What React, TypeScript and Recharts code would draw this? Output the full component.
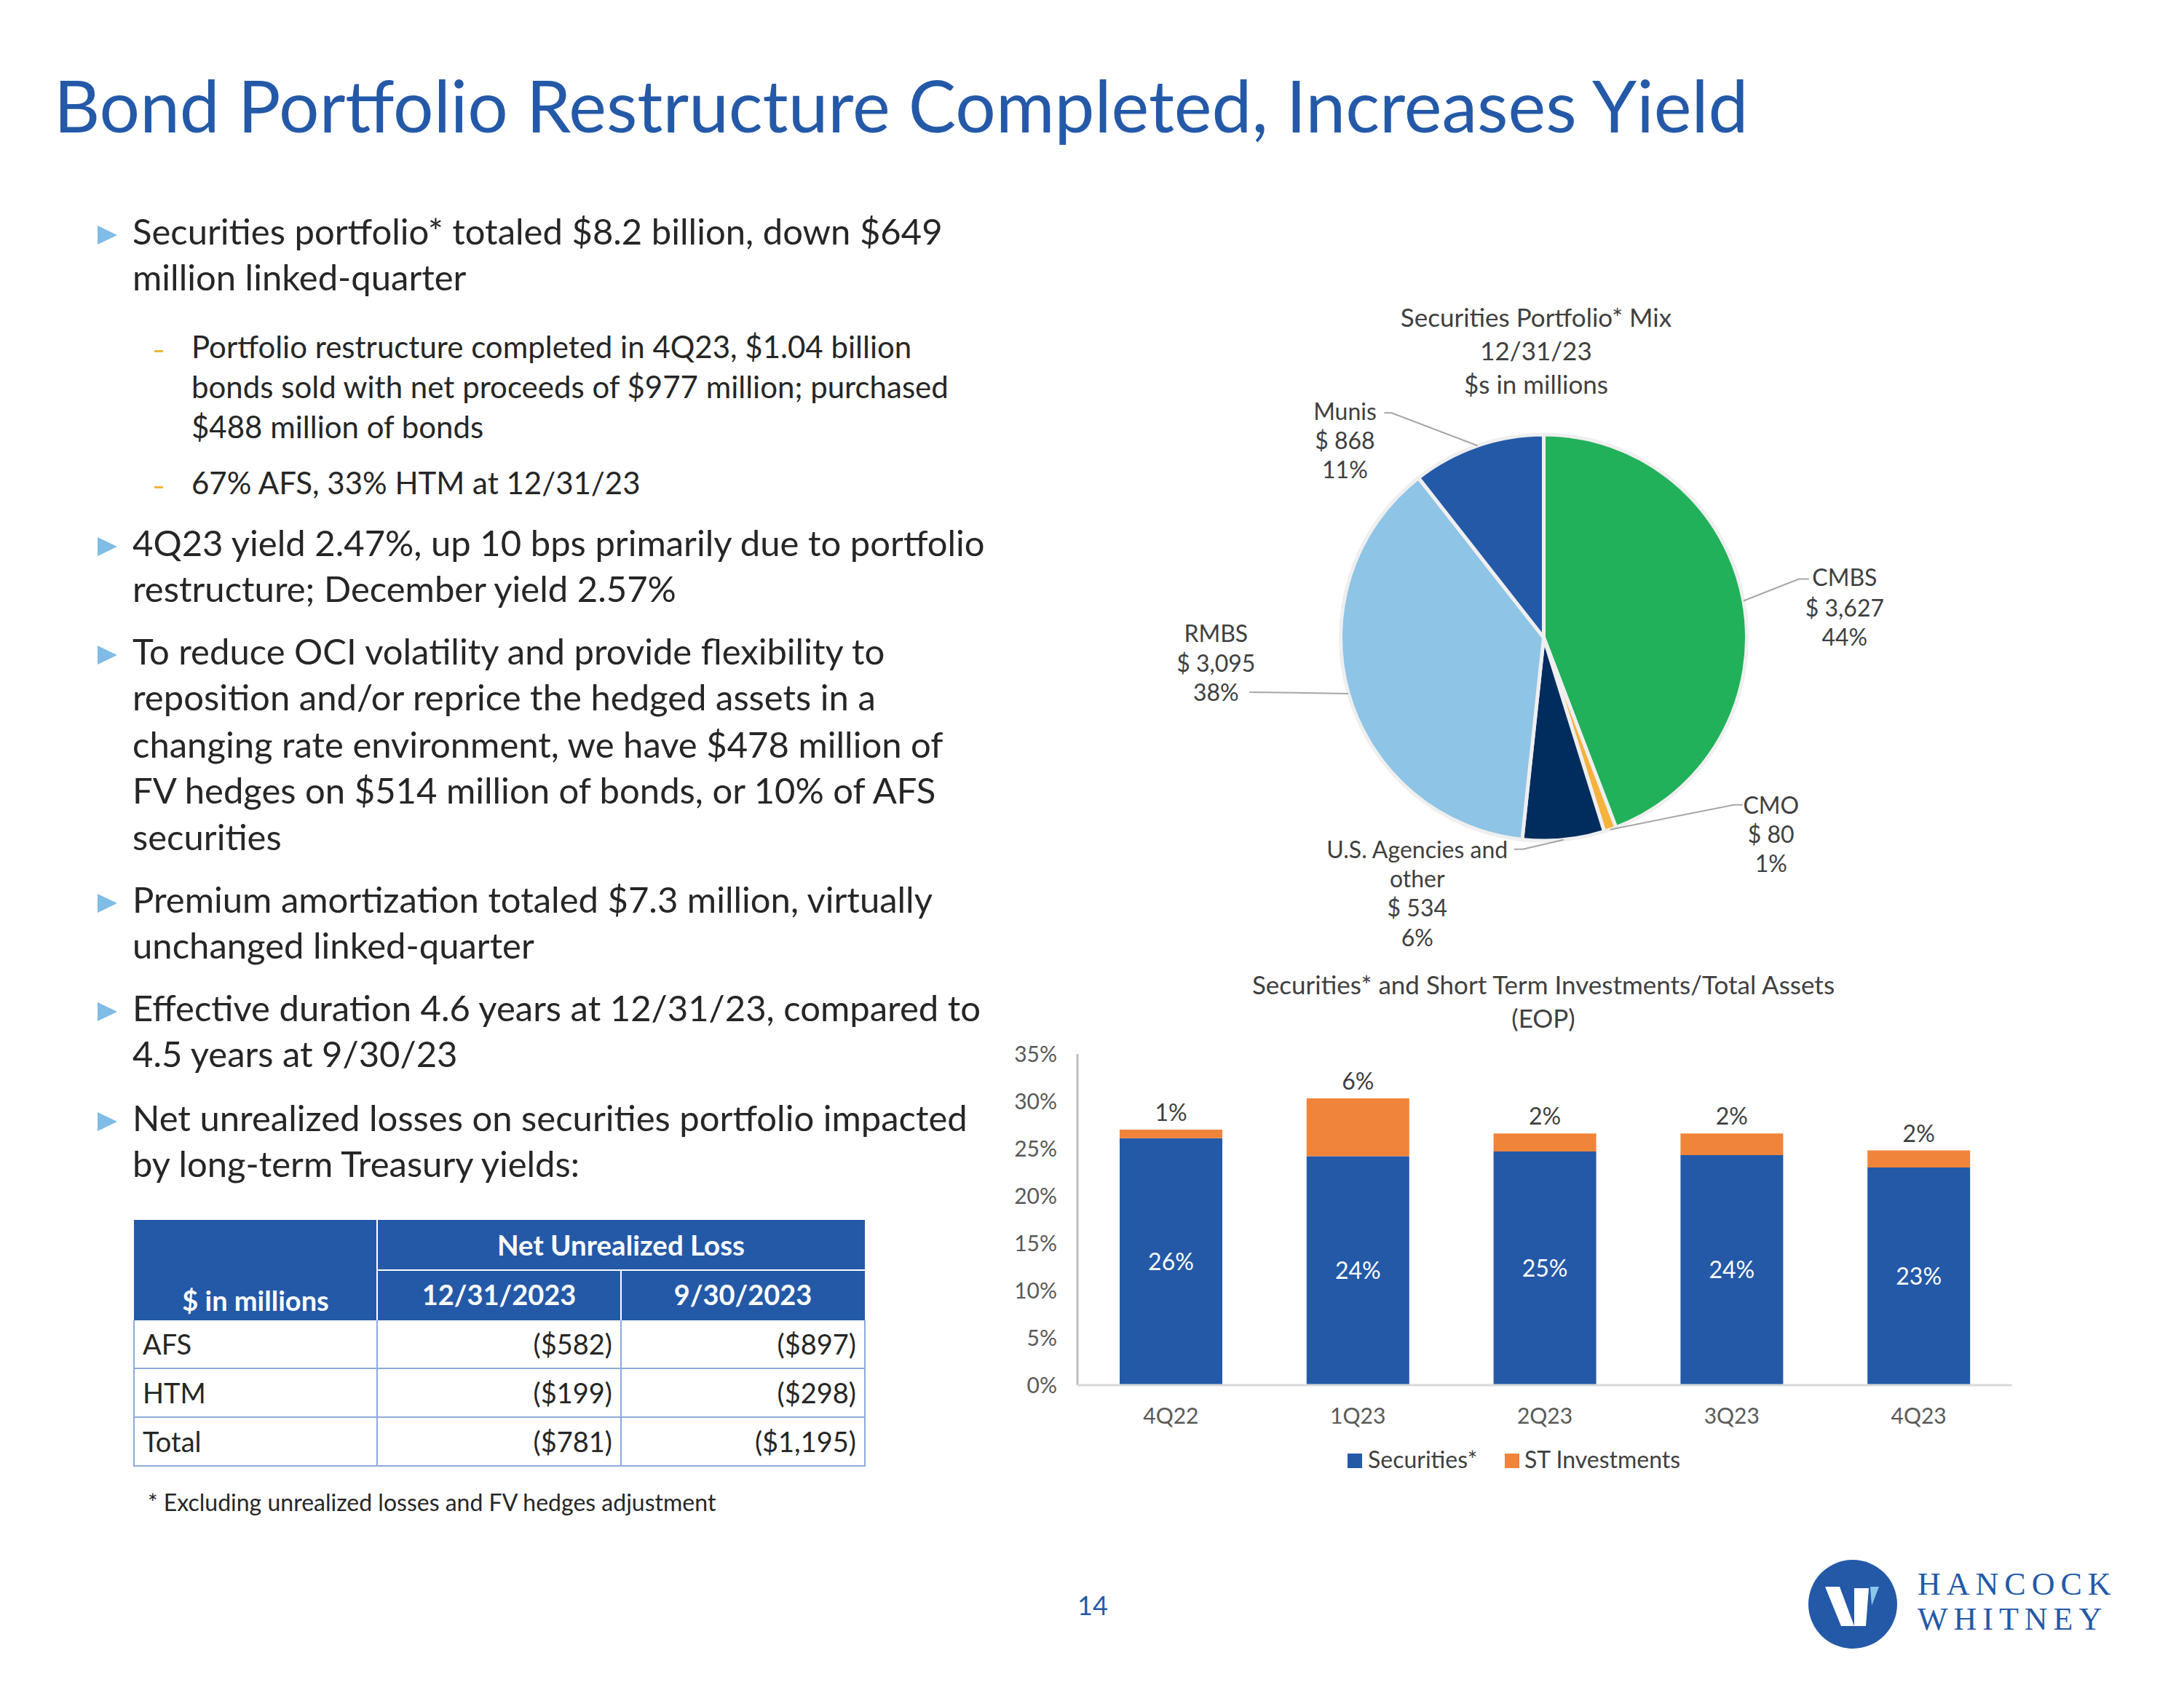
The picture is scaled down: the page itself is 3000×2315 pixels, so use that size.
import React from 'react';
import { PieChart, Pie, Cell, BarChart, Bar, XAxis, YAxis, LabelList } from 'recharts';

const FONT = "Lato, 'Open Sans', sans-serif";
const TEXT = '#262626';
const BLUE = '#2459A8';
const LABEL = '#404040';

// ---------- text content ----------
const titleText = 'Bond Portfolio Restructure Completed, Increases Yield';
const bullet1 = ['Securities portfolio* totaled $8.2 billion, down $649', 'million linked-quarter'];
const sub1 = ['Portfolio restructure completed in 4Q23, $1.04 billion', 'bonds sold with net proceeds of $977 million; purchased', '$488 million of bonds'];
const sub2 = ['67% AFS, 33% HTM at 12/31/23'];
const bullet2 = ['4Q23 yield 2.47%, up 10 bps primarily due to portfolio', 'restructure; December yield 2.57%'];
const bullet3 = ['To reduce OCI volatility and provide flexibility to', 'reposition and/or reprice the hedged assets in a', 'changing rate environment, we have $478 million of', 'FV hedges on $514 million of bonds, or 10% of AFS', 'securities'];
const bullet4 = ['Premium amortization totaled $7.3 million, virtually', 'unchanged linked-quarter'];
const bullet5 = ['Effective duration 4.6 years at 12/31/23, compared to', '4.5 years at 9/30/23'];
const bullet6 = ['Net unrealized losses on securities portfolio impacted', 'by long-term Treasury yields:'];

// ---------- table ----------
const tableRowNames = ['AFS', 'HTM', 'Total'];
const tableDec2023 = ['($582)', '($199)', '($781)'];
const tableSep2023 = ['($897)', '($298)', '($1,195)'];

// ---------- pie data ----------
const pieNames = ['CMBS', 'CMO', 'U.S. Agencies and other', 'RMBS', 'Munis'];
const pieNameLines = [['CMBS'], ['CMO'], ['U.S. Agencies and', 'other'], ['RMBS'], ['Munis']];
const pieValues = [3627, 80, 534, 3095, 868];
const piePercents = ['44%', '1%', '6%', '38%', '11%'];
const pieColors = ['#21B15A', '#F5B23C', '#002C5E', '#8EC4E5', '#2459A8'];

// ---------- bar data ----------
const quarters = ['4Q22', '1Q23', '2Q23', '3Q23', '4Q23'];
const securitiesPct = [26.1, 24.2, 24.7, 24.3, 23.0];
const stInvestmentsPct = [0.9, 6.1, 1.9, 2.3, 1.8];
const yTicks = [0, 5, 10, 15, 20, 25, 30, 35];
const seriesNames = ['Securities*', 'ST Investments'];
const seriesColors = ['#2459A8', '#F0843A'];

const pieData = pieNames.map((name, i) => ({ name, value: pieValues[i] }));
const barData = quarters.map((q, i) => ({ q, sec: securitiesPct[i], st: stInvestmentsPct[i] }));

// ---------- helpers ----------
function Line(props: any) {
  const { x, cy, size, children, color = TEXT, weight = 400, anchor = 'left', family = FONT, spacing } = props;
  const lh = size * 1.2;
  const style: any = {
    position: 'absolute', top: cy - lh / 2 - size * 0.06, fontSize: size, lineHeight: lh + 'px',
    whiteSpace: 'nowrap', color, fontWeight: weight, fontFamily: family, letterSpacing: spacing,
  };
  if (anchor === 'left') style.left = x;
  else if (anchor === 'center') { style.left = x - 1000; style.width = 2000; style.textAlign = 'center'; }
  else { style.left = x - 2000; style.width = 2000; style.textAlign = 'right'; }
  return <div style={style}>{children}</div>;
}

function Tri({ cy }: any) {
  return (
    <svg style={{ position: 'absolute', left: 134, top: cy - 10 }} width={28} height={27}>
      <polygon points="0,0 27,13 0,26" fill="#7FBCE6" />
    </svg>
  );
}

function Dash({ cy }: any) {
  return <div style={{ position: 'absolute', left: 212, top: cy + 2, width: 12, height: 3, background: '#F2B33D' }} />;
}

const MAIN = 49;
const SUB = 42;

function MainBullet({ lines, ys }: any) {
  return (
    <>
      <Tri cy={ys[0]} />
      {lines.map((t: string, i: number) => <Line key={i} x={182} cy={ys[i]} size={MAIN}>{t}</Line>)}
    </>
  );
}

function SubBullet({ lines, ys }: any) {
  return (
    <>
      <Dash cy={ys[0]} />
      {lines.map((t: string, i: number) => <Line key={i} x={263} cy={ys[i]} size={SUB}>{t}</Line>)}
    </>
  );
}

// ---------- pie labels ----------
const RAD = Math.PI / 180;
const pieLabelLayout = [
  { dx: 139, dy: [-33, 9, 49], leader: [[76, -30], [90, -30]] },
  { dx: 221, dy: [-34, 6, 46], leader: [[170, -34], [182, -34]] },
  { dx: -201, dy: [13, 53, 93, 134], leader: [[-56, 13], [-68, 13]] },
  { dx: -182, dy: [-83, -42, -2], leader: [[-136, -2]] },
  { dx: -182, dy: [-48, -8, 32], leader: [[-118, -45], [-128, -45]] },
];

function renderPieLabel(props: any) {
  const { cx, cy, midAngle, outerRadius, index } = props;
  const ex = cx + outerRadius * Math.cos(-midAngle * RAD);
  const ey = cy + outerRadius * Math.sin(-midAngle * RAD);
  const lay = pieLabelLayout[index];
  const lines = [...pieNameLines[index], '$ ' + pieValues[index].toLocaleString('en-US'), piePercents[index]];
  const pts = [[ex, ey], ...lay.leader.map(([a, b]) => [ex + a, ey + b])];
  return (
    <g key={'pl' + index}>
      <polyline points={pts.map((p) => p.join(',')).join(' ')} fill="none" stroke="#A6A6A6" strokeWidth={2} />
      {lines.map((t, i) => (
        <text key={i} x={ex + lay.dx} y={ey + lay.dy[i]} textAnchor="middle" dominantBaseline="central"
          fontSize={32} fill={LABEL} fontFamily={FONT}>{t}</text>
      ))}
    </g>
  );
}

// ---------- table ----------
function Table() {
  const L = 184, C1 = 518, C2 = 853, R = 1188;
  const top = 1676, mid = 1745, hb = 1814;
  const rows = [1814, 1880, 1947, 2014];
  const rowC = [1849, 1916, 1983];
  const border = '#8EA9DB';
  const els: any[] = [];
  els.push(<div key="hbg" style={{ position: 'absolute', left: L, top, width: R - L, height: hb - top, background: BLUE }} />);
  els.push(<div key="hv1" style={{ position: 'absolute', left: C1 - 1, top, width: 2, height: hb - top, background: '#FFFFFF' }} />);
  els.push(<div key="hh" style={{ position: 'absolute', left: C1, top: mid - 1, width: R - C1, height: 2, background: '#FFFFFF' }} />);
  els.push(<div key="hv2" style={{ position: 'absolute', left: C2 - 1, top: mid, width: 2, height: hb - mid, background: '#FFFFFF' }} />);
  [L, C1, C2, R].forEach((x, i) => els.push(
    <div key={'bv' + i} style={{ position: 'absolute', left: x - 1, top: hb, width: 2, height: rows[3] - hb, background: border }} />));
  rows.slice(1).forEach((y, i) => els.push(
    <div key={'bh' + i} style={{ position: 'absolute', left: L - 1, top: y - 1, width: R - L + 2, height: 2, background: border }} />));
  els.push(<Line key="t1" x={(C1 + R) / 2} cy={1712} size={38.5} weight={700} color="#FFFFFF" anchor="center">Net Unrealized Loss</Line>);
  els.push(<Line key="t2" x={(L + C1) / 2} cy={1789} size={38} weight={700} color="#FFFFFF" anchor="center">$ in millions</Line>);
  els.push(<Line key="t3" x={(C1 + C2) / 2} cy={1781} size={38} weight={700} color="#FFFFFF" anchor="center">12/31/2023</Line>);
  els.push(<Line key="t4" x={(C2 + R) / 2} cy={1781} size={38} weight={700} color="#FFFFFF" anchor="center">9/30/2023</Line>);
  tableRowNames.forEach((n, i) => {
    els.push(<Line key={'rn' + i} x={196} cy={rowC[i]} size={38}>{n}</Line>);
    els.push(<Line key={'rd' + i} x={C2 - 12} cy={rowC[i]} size={38} anchor="right">{tableDec2023[i]}</Line>);
    els.push(<Line key={'rs' + i} x={R - 12} cy={rowC[i]} size={38} anchor="right">{tableSep2023[i]}</Line>);
  });
  return <>{els}</>;
}

function Logo() {
  return (
    <>
      <svg style={{ position: 'absolute', left: 2545 - 64, top: 2204 - 64 }} width={128} height={128}>
        <circle cx={64} cy={64} r={61} fill={BLUE} />
        <polygon points="26,40 46,40 66,94 48,94" fill="#FFFFFF" />
        <polygon points="66,42 86,42 82,94 66,94" fill="#FFFFFF" />
        <polygon points="88,40 100,40 90,66" fill="#8EC6EA" />
      </svg>
      <Line x={2634} cy={2180} size={44} color={BLUE} family="'Liberation Serif', 'DejaVu Serif', serif" spacing={8}>HANCOCK</Line>
      <Line x={2634} cy={2228} size={44} color={BLUE} family="'Liberation Serif', 'DejaVu Serif', serif" spacing={8}>WHITNEY</Line>
    </>
  );
}

export default function App() {
  return (
    <div style={{ position: 'absolute', left: 0, top: 0, width: 3000, height: 2315, background: '#FFFFFF', fontFamily: FONT, overflow: 'hidden' }}>
      {/* Title */}
      <div style={{ position: 'absolute', left: 74, top: 183 - 0.987 * 98, fontSize: 98, lineHeight: (98 * 1.2) + 'px', color: BLUE, whiteSpace: 'nowrap', fontFamily: FONT }}>{titleText}</div>

      {/* Bullets */}
      <MainBullet lines={bullet1} ys={[320, 383]} />
      <SubBullet lines={sub1} ys={[479, 534, 589]} />
      <SubBullet lines={sub2} ys={[666]} />
      <MainBullet lines={bullet2} ys={[748, 811]} />
      <MainBullet lines={bullet3} ys={[897, 960, 1025, 1088, 1152]} />
      <MainBullet lines={bullet4} ys={[1238, 1301]} />
      <MainBullet lines={bullet5} ys={[1387, 1450]} />
      <MainBullet lines={bullet6} ys={[1538, 1601]} />

      <Table />
      <Line x={203} cy={2066} size={32}>* Excluding unrealized losses and FV hedges adjustment</Line>

      {/* Pie chart */}
      <Line x={2110} cy={437} size={35} color={LABEL} anchor="center">Securities Portfolio* Mix</Line>
      <Line x={2110} cy={483} size={35} color={LABEL} anchor="center">12/31/23</Line>
      <Line x={2110} cy={529} size={35} color={LABEL} anchor="center">$s in millions</Line>
      <div style={{ position: 'absolute', left: 1560, top: 500 }}>
        <PieChart width={1180} height={820}>
          <Pie data={pieData} dataKey="value" nameKey="name" cx={555.5} cy={371} outerRadius={279}
            startAngle={90} endAngle={-270} isAnimationActive={false} stroke="#EFEFEF" strokeWidth={5}
            label={renderPieLabel} labelLine={false}>
            {pieData.map((d, i) => <Cell key={d.name} fill={pieColors[i]} />)}
          </Pie>
        </PieChart>
      </div>

      {/* Bar chart */}
      <Line x={2120} cy={1354} size={35} color={LABEL} anchor="center">Securities* and Short Term Investments/Total Assets</Line>
      <Line x={2120} cy={1400} size={35} color={LABEL} anchor="center">(EOP)</Line>
      <div style={{ position: 'absolute', left: 1370, top: 1420 }}>
        <BarChart width={1420} height={560} data={barData} margin={{ top: 28, right: 26, bottom: 0, left: 0 }} barSize={141}>
          <YAxis type="number" domain={[0, 35]} ticks={yTicks} interval={0} width={110}
            tickFormatter={(v: number) => v + '%'} axisLine={{ stroke: '#BFBFBF', strokeWidth: 3 }}
            tickLine={false} tickSize={0} tickMargin={28}
            tick={{ fill: '#595959', fontSize: 30, fontFamily: FONT }} />
          <XAxis dataKey="q" height={77} axisLine={{ stroke: '#D9D9D9', strokeWidth: 3 }} tickLine={false}
            tickSize={0} tickMargin={32} interval={0}
            tick={{ fill: '#595959', fontSize: 30, fontFamily: FONT }} />
          <Bar dataKey="sec" name={seriesNames[0]} stackId="a" fill={seriesColors[0]} isAnimationActive={false}>
            <LabelList dataKey="sec" position="center" fill="#FFFFFF" fontSize={32} fontFamily={FONT}
              formatter={(v: any) => Math.round(Number(v)) + '%'} />
          </Bar>
          <Bar dataKey="st" name={seriesNames[1]} stackId="a" fill={seriesColors[1]} isAnimationActive={false}>
            <LabelList dataKey="st" position="top" offset={12} fill={LABEL} fontSize={32} fontFamily={FONT}
              formatter={(v: any) => Math.round(Number(v)) + '%'} />
          </Bar>
        </BarChart>
      </div>
      {/* Legend */}
      <div style={{ position: 'absolute', left: 1851, top: 2007 - 10, width: 20, height: 20, background: seriesColors[0] }} />
      <Line x={1879} cy={2007} size={32} color={LABEL}>{seriesNames[0]}</Line>
      <div style={{ position: 'absolute', left: 2067, top: 2007 - 10, width: 20, height: 20, background: seriesColors[1] }} />
      <Line x={2094} cy={2007} size={32} color={LABEL}>{seriesNames[1]}</Line>

      {/* Footer */}
      <Line x={1501} cy={2208} size={36} color={BLUE} anchor="center">14</Line>
      <Logo />
    </div>
  );
}
